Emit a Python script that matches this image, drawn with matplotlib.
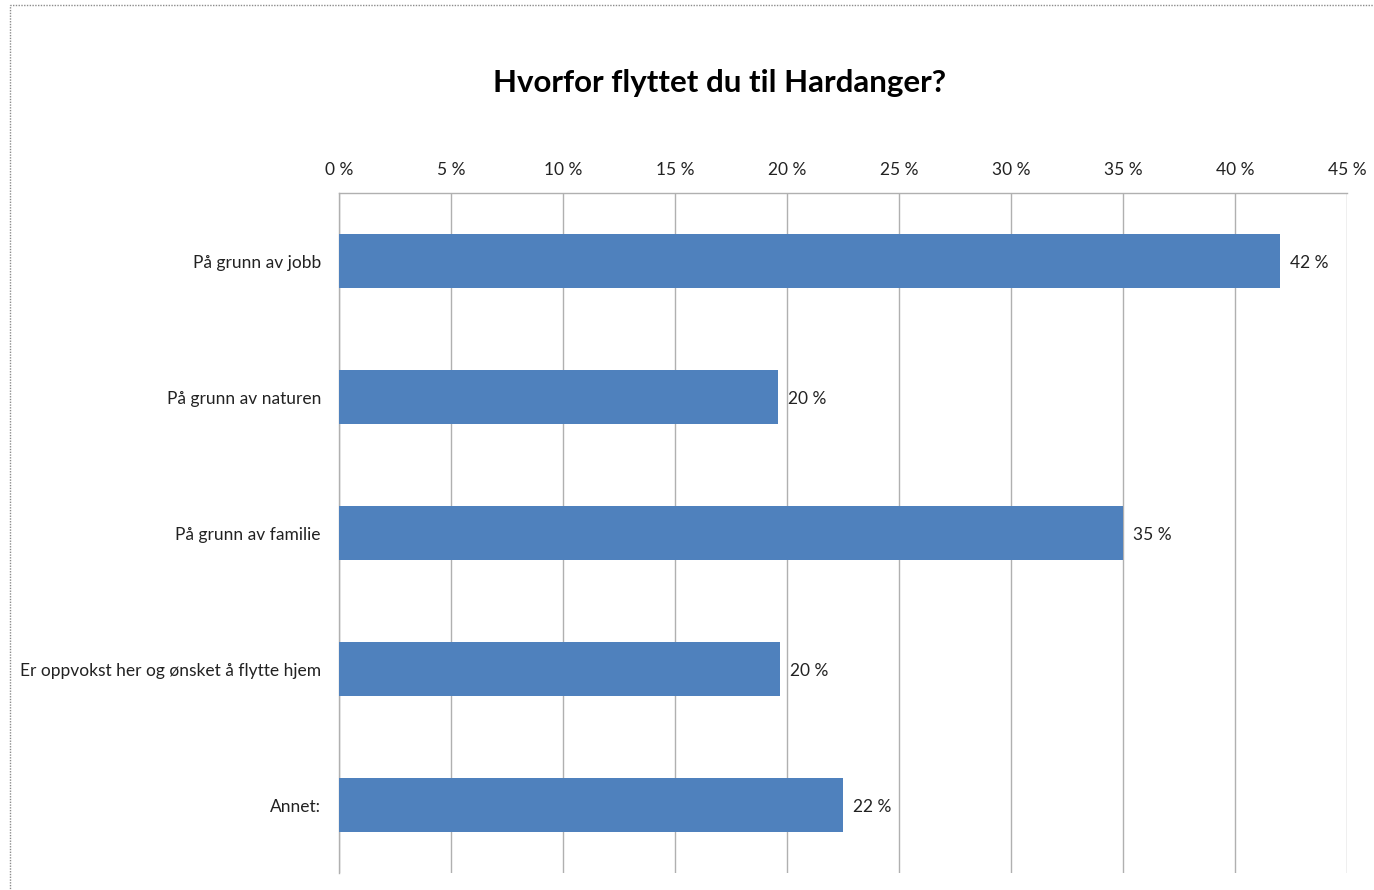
import numpy as np
import matplotlib.pyplot as plt
from matplotlib.patches import Rectangle

plt.rcParams['font.family'] = ['Lato', 'DejaVu Sans']

categories = ['På grunn av jobb', 'På grunn av naturen', 'På grunn av familie',
              'Er oppvokst her og ønsket å flytte hjem', 'Annet:']
values = [42.0, 19.6, 35.0, 19.7, 22.5]
labels = ['42 %', '20 %', '35 %', '20 %', '22 %']
xticks = [0, 5, 10, 15, 20, 25, 30, 35, 40, 45]

fig = plt.figure(figsize=(13.74, 8.90), dpi=100)
ax = fig.add_axes([0.2467, 0.0191, 0.7336, 0.764])

# outer chart border (cropped at right/bottom)
fig.patches.append(Rectangle((10 / 1374, -0.05), 1.1, 0.05 + 1 - 5 / 890,
                             transform=fig.transFigure, fill=False,
                             edgecolor='#8c8c8c', linewidth=1.0, linestyle=(0, (1, 1))))

y = np.arange(len(categories))
ax.barh(y, values, height=0.4, color='#4F81BD', zorder=3)
for yi, v, lab in zip(y, values, labels):
    ax.text(v + 0.45, yi, lab, va='center_baseline', ha='left', fontsize=12.5, color='#222222')

ax.set_xlim(0, 45)
ax.set_ylim(4.5, -0.5)
ax.set_xticks(xticks)
ax.set_xticklabels([f'{t} %' for t in xticks], fontsize=12.5, color='#222222')
ax.xaxis.tick_top()
ax.tick_params(axis='x', length=0, pad=11)
ax.set_yticks(y)
ax.set_yticklabels(categories, fontsize=12.5, color='#222222')
ax.tick_params(axis='y', length=0, pad=13)
ax.grid(axis='x', color='#b0b0b0', linewidth=1.0, zorder=0)
for s in ['bottom', 'right']:
    ax.spines[s].set_visible(False)
for s in ['top', 'left']:
    ax.spines[s].set_color('#b0b0b0')
    ax.spines[s].set_linewidth(1.0)

fig.text(0.524, 1 - 83 / 890, 'Hvorfor flyttet du til Hardanger?', ha='center', va='center',
         fontsize=22.5, fontweight='bold', color='black')

fig.savefig('out.png', dpi=100)
